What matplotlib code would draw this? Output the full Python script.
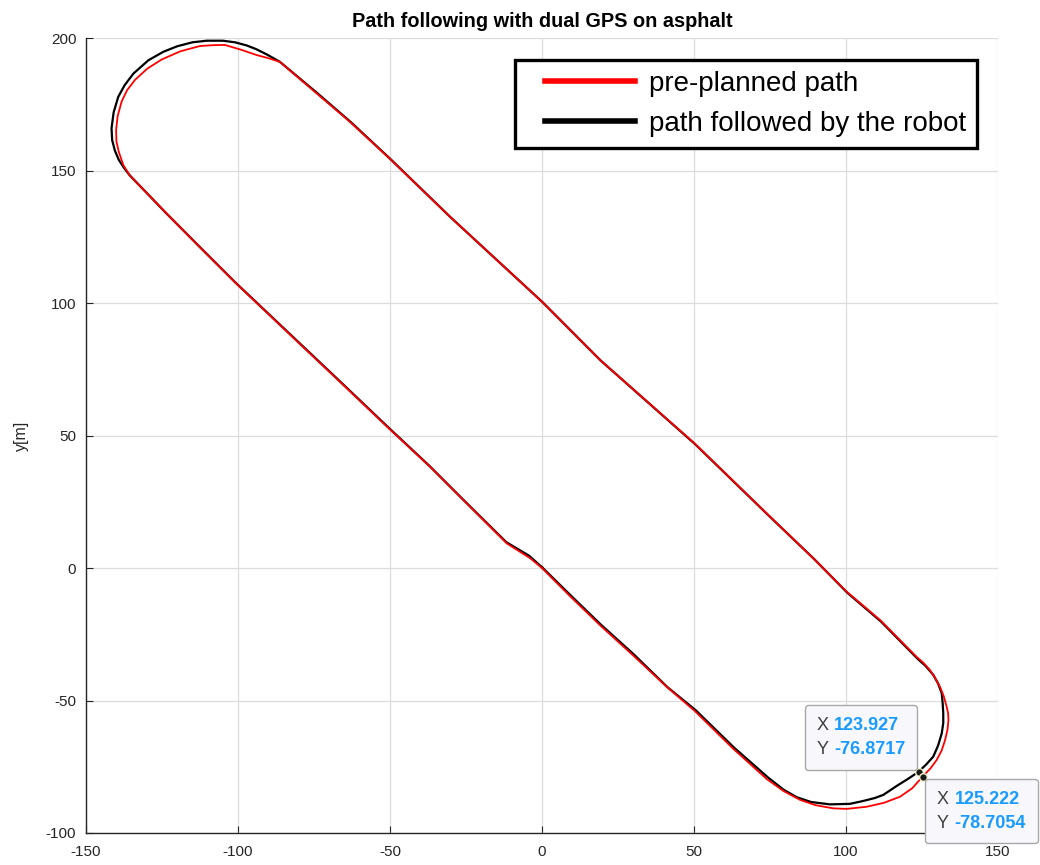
import numpy as np
import matplotlib
matplotlib.use('Agg')
import matplotlib.pyplot as plt
from matplotlib.offsetbox import TextArea, HPacker, VPacker, AnnotationBbox
from matplotlib.legend_handler import HandlerLine2D

plt.rcParams['font.family'] = ['Liberation Sans', 'DejaVu Sans']
plt.rcParams['axes.unicode_minus'] = False

# pre-planned path (x, y in m)
plan_x = [0, 9.2, 19.1, 30.0, 41.0, 50.3, 62.9, 73.9, 79.5, 84.9, 90.0, 95.8, 100.2, 106.8,
          112.5, 117.8, 121.8, 125.222, 127.8, 129.8, 131.5, 132.6, 133.4, 133.7, 133.6, 133.1,
          132.2, 130.9, 129.3, 127.6, 125.5, 123.2, 111.2, 100.2, 89.2, 73.9, 50.1, 19.1, 0,
          -30.3, -50.2, -63.2, -74.1, -86.2, -90.0, -93.9, -99.0, -104.3, -108.5, -112.5,
          -119.0, -125.1, -129.8, -133.9, -136.5, -138.3, -139.6, -140.1, -140.0, -139.2,
          -137.7, -135.5, -123.5, -112.5, -100.8, -80.7, -66.4, -50.2, -36.8, -25.9, -11.6,
          -3.9, 0]
plan_y = [0, -10.6, -21.6, -33.0, -44.8, -54.0, -68.2, -79.6, -84.2, -87.5, -89.5, -90.7,
          -90.9, -90.1, -88.6, -86.3, -83.1, -78.7054, -75.6, -72.5, -68.8, -64.9, -61.0, -57.4,
          -54.8, -52.3, -48.5, -44.8, -41.5, -38.5, -35.8, -33.5, -19.6, -8.9, 3.7, 20.6, 47.1,
          78.5, 100.5, 132.6, 154.6, 168.4, 179.1, 191.0, 192.4, 193.6, 195.6, 197.4, 197.3,
          197.0, 195.0, 191.9, 188.5, 184.2, 180.3, 176.0, 170.5, 165.3, 161.0, 157.0, 152.0,
          148.0, 133.8, 121.0, 107.6, 85.7, 70.2, 52.5, 38.2, 25.7, 9.3, 3.7, 0]

# path followed by the robot
robot_x = [0, 9.5, 19.3, 30.3, 41.2, 50.6, 63.2, 74.3, 79.4, 83.8, 88.5, 94.7, 101.3, 105.7,
           109.5, 112.3, 116.6, 120.5, 123.927, 126.5, 128.7, 130.3, 131.5, 132.0, 132.0, 131.8,
           131.5, 130.3, 128.7, 126.2, 123.6, 111.5, 100.4, 89.6, 74.2, 50.4, 19.4, 0.2, -30.1,
           -50.0, -63.0, -74.0, -86.2, -90.5, -94.0, -97.1, -101.0, -105.0, -110.3, -115.0,
           -120.0, -124.6, -129.5, -134.4, -137.3, -139.4, -140.9, -141.6, -141.4, -140.5,
           -139.2, -137.5, -135.7, -123.7, -112.7, -101.0, -80.9, -66.6, -50.4, -37.0, -26.1,
           -11.8, -4.2, 0]
robot_y = [0.3, -10.4, -21.3, -32.7, -44.9, -53.7, -67.8, -79.0, -83.6, -86.5, -88.3, -89.2,
           -89.0, -87.9, -86.8, -85.6, -82.3, -79.5, -76.8717, -74.0, -71.2, -67.0, -62.4, -58.5,
           -54.8, -51.0, -47.3, -43.6, -40.3, -37.0, -34.3, -20.2, -9.3, 3.3, 20.2, 46.7, 78.2,
           100.3, 132.4, 154.5, 168.4, 179.3, 191.0, 193.8, 195.8, 197.2, 198.4, 199.0, 199.0,
           198.4, 196.9, 194.8, 191.6, 186.6, 182.2, 177.8, 172.0, 166.0, 161.5, 157.5, 154.0,
           151.0, 148.3, 134.0, 121.3, 107.9, 86.1, 70.6, 52.9, 38.5, 26.0, 9.8, 4.6, 0.3]

# data tips: (x, y) of the two picked points
tips = [(123.927, -76.8717), (125.222, -78.7054)]


class InsetLine(HandlerLine2D):
    # legend line that starts a bit right of the handle box
    def get_xdata(self, legend, xdescent, ydescent, width, height, fontsize):
        return [-xdescent + 0.65 * fontsize, -xdescent + width], [-xdescent + 0.5 * width]


fig = plt.figure(figsize=(10.4, 8.65), dpi=100)
ax = fig.add_axes([0.0827, 0.037, 0.8769, 0.919])

l_rob, = ax.plot(robot_x, robot_y, color='black', lw=1.6, label='path followed by the robot')
l_plan, = ax.plot(plan_x, plan_y, color='red', lw=1.3, label='pre-planned path')

ax.set_xlim(-150, 150)
ax.set_ylim(-100, 200)
ax.set_xticks(np.arange(-150, 151, 50))
ax.set_yticks(np.arange(-100, 201, 50))
ax.grid(True, color='#dcdcdc', lw=0.9)
ax.set_axisbelow(True)
for s in ['top', 'right']:
    ax.spines[s].set_visible(False)
for s in ['left', 'bottom']:
    ax.spines[s].set_color('#262626')
    ax.spines[s].set_linewidth(1.0)
ax.tick_params(direction='in', length=5, colors='#262626', labelsize=11)
ax.tick_params(axis='x', pad=9)
ax.tick_params(axis='y', pad=7)
ax.set_ylabel('y[m]', fontsize=11.5, color='#262626', labelpad=12)
ax.set_title('Path following with dual GPS on asphalt', fontsize=14.3, fontweight='bold', pad=8)

leg = ax.legend(handles=[l_plan, l_rob], loc='upper right', bbox_to_anchor=(0.977, 0.9723),
                borderaxespad=0, fancybox=False, fontsize=20, handlelength=3.9,
                handletextpad=0.5, labelspacing=0.48, borderpad=0.4, framealpha=1,
                handler_map={l_plan: InsetLine(), l_rob: InsetLine()})
leg.get_frame().set_edgecolor('black')
leg.get_frame().set_linewidth(2.4)
for h in leg.legend_handles:
    h.set_linewidth(4)

# data tip boxes: (box corner placed at the point, offset in points)
tip_props = [((1, 0), (-9.7, 9.7)), ((0, 1), (10.2, -10.2))]
for (tx, ty), (align, off) in zip(tips, tip_props):
    ax.plot(tx, ty, 'o', ms=5.5, mfc='#1a1a1a', mec='#f2f2c8', mew=1.0, zorder=5)
    rows = []
    for name, val in [('X', tx), ('Y', ty)]:
        rows.append(HPacker(children=[
            TextArea(name, textprops=dict(color='#404040', fontsize=13)),
            TextArea('%g' % val, textprops=dict(color='#1a9bff', fontsize=13, fontweight='bold'))],
            sep=4, align='baseline'))
    box = VPacker(children=rows, sep=5, align='left')
    ab = AnnotationBbox(box, (tx, ty), xycoords=ax.transData, xybox=off,
                        boxcoords='offset points', box_alignment=align,
                        annotation_clip=False,
                        bboxprops=dict(boxstyle='round,pad=0.85,rounding_size=0.25',
                                       fc='#f8f8fc', ec='#a8a8a8', lw=1.0))
    ab.set_zorder(6)
    fig.add_artist(ab)

fig.savefig('out.png', dpi=100)
